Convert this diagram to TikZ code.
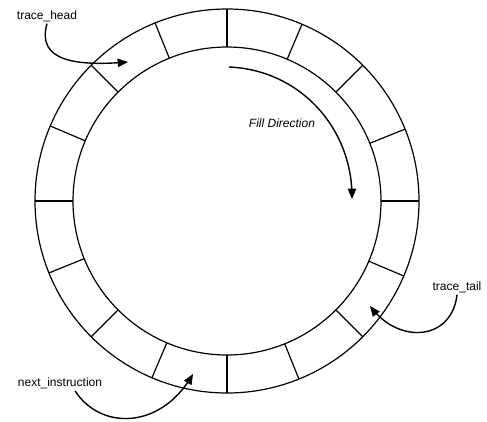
\documentclass[tikz,border=0pt]{standalone}
\usepackage{fontspec}
\setmainfont{Liberation Sans}
\usepackage{tikz}
\usetikzlibrary{arrows,positioning,shapes}

\begin{document}
\begin{tikzpicture}[x=1pt,y=-1pt,
  ring/.style={draw,circle,line width=1.2pt,inner sep=0pt,outer sep=0pt},
  spoke/.style={line width=1.2pt},
  label/.style={inner sep=2pt,font=\fontsize{12}{14}\selectfont},
  to/.style={->,>=triangle 45,line width=1.4pt},
  every node/.style={align=center}]

    \useasboundingbox (0,0) rectangle (487,421);

    % the buffer
    \coordinate (centre) at (227,201);
    \node[ring,minimum size=384pt](outer) at (centre){};
    \node[ring,minimum size=308pt](inner) at (centre){};
    \foreach \a in {0,22.5,...,337.5}
        \draw[spoke](inner.\a) -- (outer.\a);

    % labels
    \node[label](head) at (47,16){trace\_head};
    \node[label](tail) at (457,287){trace\_tail};
    \node[label](next) at (60,383){next\_instruction};
    \node[label,font=\fontsize{12}{14}\selectfont\itshape](fill) at (282,123){Fill Direction};

    \coordinate (headcell) at (128,62);
    \coordinate (tailcell) at (370,306);
    \coordinate (nextcell) at (193,374);
    \coordinate (fillstart) at (229,67);
    \coordinate (fillend) at (352,199);

    \draw[to](head.south) .. controls (36,62) and (78,66) .. (headcell);
    \draw[to](fillstart) .. controls (300,70) and (352,128) .. (fillend);
    \draw[to](tail.south) .. controls (452,340) and (400,345) .. (tailcell);
    \draw[to]([xshift=15pt]next.south) .. controls (100,430) and (160,430) .. (nextcell);
\end{tikzpicture}
\end{document}
